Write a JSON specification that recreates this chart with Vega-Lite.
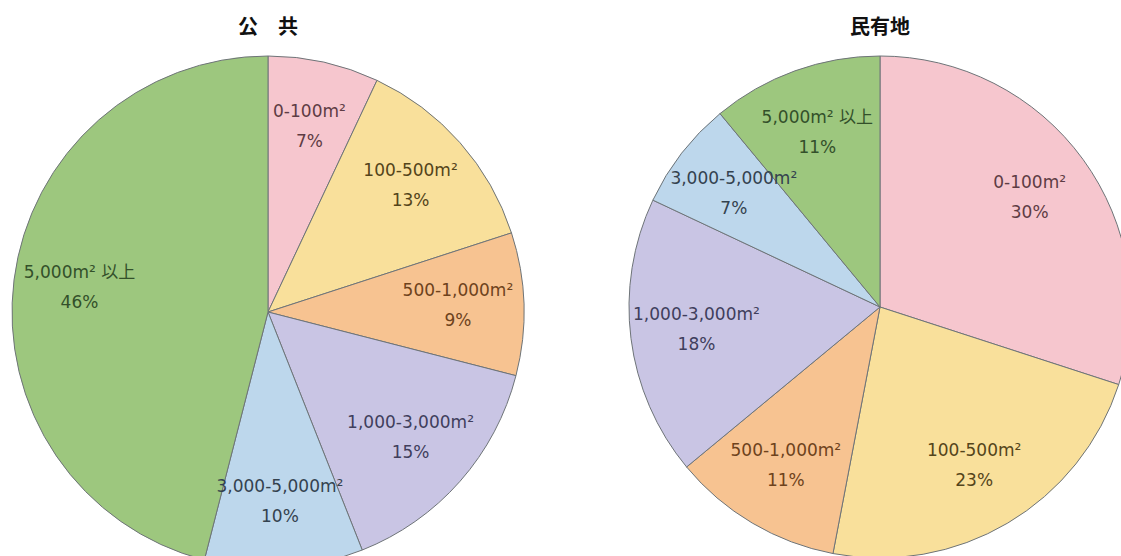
{
  "$schema": "https://vega.github.io/schema/vega-lite/v6.json",
  "padding": {"top": 18, "left": 0, "right": 0, "bottom": 0},
  "background": "white",
  "spacing": 0,
  "config": {
    "view": {"stroke": null},
    "title": {"font": "Noto Sans CJK JP", "fontSize": 20, "fontWeight": "bold", "color": "#111", "offset": 6}
  },
  "datasets": {
    "pub": [
      {"category": "0-100m²", "share": 0.07, "order": 1},
      {"category": "100-500m²", "share": 0.13, "order": 2},
      {"category": "500-1,000m²", "share": 0.09, "order": 3},
      {"category": "1,000-3,000m²", "share": 0.15, "order": 4},
      {"category": "3,000-5,000m²", "share": 0.10, "order": 5},
      {"category": "5,000m² 以上", "share": 0.46, "order": 6}
    ],
    "priv": [
      {"category": "0-100m²", "share": 0.30, "order": 1},
      {"category": "100-500m²", "share": 0.23, "order": 2},
      {"category": "500-1,000m²", "share": 0.11, "order": 3},
      {"category": "1,000-3,000m²", "share": 0.18, "order": 4},
      {"category": "3,000-5,000m²", "share": 0.07, "order": 5},
      {"category": "5,000m² 以上", "share": 0.11, "order": 6}
    ]
  },
  "hconcat": [
    {
      "title": "公　共",
      "width": 536,
      "height": 536,
      "data": {"name": "pub"},
      "encoding": {
        "theta": {"field": "share", "type": "quantitative", "stack": true},
        "order": {"field": "order", "type": "quantitative", "sort": "ascending"}
      },
      "layer": [
        {
          "mark": {"type": "arc", "outerRadius": 256, "stroke": "#6e7478", "strokeWidth": 1},
          "encoding": {
            "color": {"field": "category", "type": "nominal", "legend": null,
              "scale": {"domain": ["0-100m²", "100-500m²", "500-1,000m²", "1,000-3,000m²", "3,000-5,000m²", "5,000m² 以上"],
                        "range": ["#f6c6ce", "#f9e09b", "#f7c391", "#c9c5e4", "#bdd7ec", "#9dc77e"]}}
          }
        },
        {
          "mark": {"type": "text", "radius": 190, "dy": -15, "font": "DejaVu Sans, Noto Sans CJK JP", "fontSize": 17},
          "encoding": {
            "text": {"field": "category", "type": "nominal"},
            "color": {"field": "category", "type": "nominal", "legend": null,
              "scale": {"domain": ["0-100m²", "100-500m²", "500-1,000m²", "1,000-3,000m²", "3,000-5,000m²", "5,000m² 以上"],
                        "range": ["#5e3c44", "#54441a", "#6e421c", "#403e5c", "#34424f", "#33502a"]}}
          }
        },
        {
          "mark": {"type": "text", "radius": 190, "dy": 15, "font": "DejaVu Sans, Noto Sans CJK JP", "fontSize": 17},
          "encoding": {
            "text": {"field": "share", "type": "quantitative", "format": ".0%"},
            "color": {"field": "category", "type": "nominal", "legend": null,
              "scale": {"domain": ["0-100m²", "100-500m²", "500-1,000m²", "1,000-3,000m²", "3,000-5,000m²", "5,000m² 以上"],
                        "range": ["#5e3c44", "#54441a", "#6e421c", "#403e5c", "#34424f", "#33502a"]}}
          }
        }
      ],
      "resolve": {"scale": {"color": "independent"}}
    },
    {
      "title": "民有地",
      "width": 688,
      "height": 526,
      "data": {"name": "priv"},
      "encoding": {
        "theta": {"field": "share", "type": "quantitative", "stack": true},
        "order": {"field": "order", "type": "quantitative", "sort": "ascending"}
      },
      "layer": [
        {
          "mark": {"type": "arc", "outerRadius": 251, "stroke": "#6e7478", "strokeWidth": 1},
          "encoding": {
            "color": {"field": "category", "type": "nominal", "legend": null,
              "scale": {"domain": ["0-100m²", "100-500m²", "500-1,000m²", "1,000-3,000m²", "3,000-5,000m²", "5,000m² 以上"],
                        "range": ["#f6c6ce", "#f9e09b", "#f7c391", "#c9c5e4", "#bdd7ec", "#9dc77e"]}}
          }
        },
        {
          "mark": {"type": "text", "radius": 185, "dy": -15, "font": "DejaVu Sans, Noto Sans CJK JP", "fontSize": 17},
          "encoding": {
            "text": {"field": "category", "type": "nominal"},
            "color": {"field": "category", "type": "nominal", "legend": null,
              "scale": {"domain": ["0-100m²", "100-500m²", "500-1,000m²", "1,000-3,000m²", "3,000-5,000m²", "5,000m² 以上"],
                        "range": ["#5e3c44", "#54441a", "#6e421c", "#403e5c", "#34424f", "#33502a"]}}
          }
        },
        {
          "mark": {"type": "text", "radius": 185, "dy": 15, "font": "DejaVu Sans, Noto Sans CJK JP", "fontSize": 17},
          "encoding": {
            "text": {"field": "share", "type": "quantitative", "format": ".0%"},
            "color": {"field": "category", "type": "nominal", "legend": null,
              "scale": {"domain": ["0-100m²", "100-500m²", "500-1,000m²", "1,000-3,000m²", "3,000-5,000m²", "5,000m² 以上"],
                        "range": ["#5e3c44", "#54441a", "#6e421c", "#403e5c", "#34424f", "#33502a"]}}
          }
        }
      ],
      "resolve": {"scale": {"color": "independent"}}
    }
  ]
}
